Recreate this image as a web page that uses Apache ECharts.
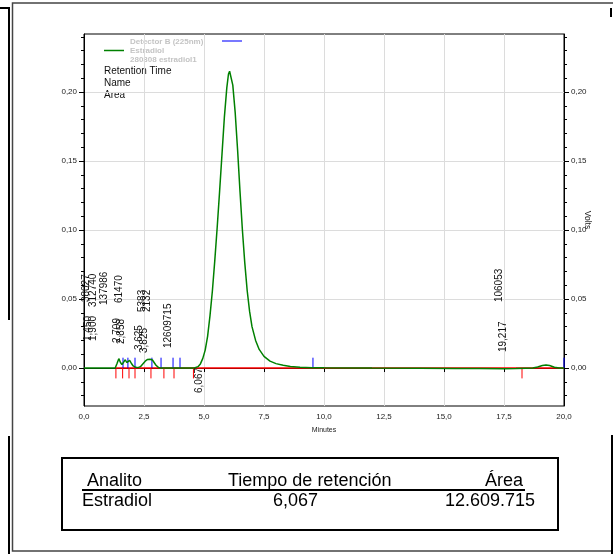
<!DOCTYPE html>
<html>
<head>
<meta charset="utf-8">
<script src="https://cdn.jsdelivr.net/npm/echarts@6/dist/echarts.min.js"></script>
<style>
  html, body { margin: 0; padding: 0; background: #fff; }
  #chart { width: 613px; height: 554px; }
</style>
</head>
<body>
<div id="chart"></div>
<script>
// Detector B (225 nm) trace: time in minutes, signal in volts
const traceTimes = [
  0.00, 0.50, 1.00, 1.30, 1.38, 1.45, 1.52, 1.58, 1.66, 1.72, 1.78, 1.85, 1.90, 1.97,
  2.05, 2.15, 2.25, 2.35, 2.45, 2.55, 2.65, 2.75, 2.85, 2.92, 3.00, 3.10, 3.20, 3.60,
  4.00, 4.40, 4.60, 4.75, 4.85, 4.95, 5.05, 5.15, 5.25, 5.35, 5.45, 5.55, 5.65, 5.75,
  5.85, 5.95, 6.02, 6.067, 6.12, 6.20, 6.30, 6.40, 6.50, 6.60, 6.70, 6.80, 6.90, 7.00,
  7.15, 7.30, 7.50, 7.75, 8.00, 8.30, 8.60, 9.00, 9.50, 10.00, 12.00, 14.00, 15.50,
  16.50, 17.50, 18.00, 18.40, 18.70, 18.90, 19.10, 19.25, 19.40, 19.60, 19.80, 20.00
];
const traceVolts = [
  0.0000, 0.0000, 0.0000, 0.0000, 0.0035, 0.0068, 0.0040, 0.0025, 0.0045, 0.0060, 0.0040, 0.0050, 0.0055, 0.0035,
  0.0015, 0.0005, 0.0003, 0.0010, 0.0030, 0.0050, 0.0062, 0.0063, 0.0058, 0.0045, 0.0020, 0.0005, 0.0000, 0.0000,
  0.0000, 0.0000, 0.0000, 0.0010, 0.0030, 0.0070, 0.0130, 0.0230, 0.0380, 0.0560, 0.0780, 0.1020, 0.1280, 0.1550,
  0.1820, 0.2030, 0.2130, 0.2150, 0.2140, 0.2050, 0.1850, 0.1580, 0.1280, 0.1000, 0.0760, 0.0560, 0.0410, 0.0300,
  0.0200, 0.0135, 0.0085, 0.0050, 0.0032, 0.0020, 0.0012, 0.0006, 0.0003, 0.0002, 0.0000, -0.0001, -0.0003,
  -0.0004, -0.0005, -0.0004, -0.0001, 0.0000, 0.0008, 0.0018, 0.0022, 0.0018, 0.0006, 0.0001, 0.0000
];

// Integration baseline and peak start / end events (minutes)
const baselineTimes = [1.33, 20.0];
const peakStartTimes = [1.625, 1.83, 2.125, 2.83, 3.21, 3.71, 4.0, 9.54, 20.0];
const peakEndTimes = [1.33, 1.61, 1.875, 2.125, 2.79, 3.33, 3.75, 4.56, 18.25];

// Peak results
const retentionTimes = [1.450, 1.900, 2.709, 2.858, 3.625, 3.825, 6.067, 19.217];
const peakAreas = [38027, 312740, 137986, 61470, 5383, 2132, 12609715, 106053];

// Axis ticks
const xTicks = [0, 2.5, 5, 7.5, 10, 12.5, 15, 17.5, 20];
const yTicks = [0, 0.05, 0.10, 0.15, 0.20];
const yMinorTicks = [-0.02, -0.01, 0.01, 0.02, 0.03, 0.04, 0.06, 0.07, 0.08, 0.09, 0.11, 0.12,
  0.13, 0.14, 0.16, 0.17, 0.18, 0.19, 0.21, 0.22, 0.23, 0.24];

// Results table
const tableHeader = ['Analito', 'Tiempo de retención', 'Área'];
const tableRow = ['Estradiol', '6,067', '12.609.715'];

// ---- layout ----
const Y_MIN = -0.0275, Y_MAX = 0.242;
const EVENT_LEN = 0.0075;
const FONT = 'Arial, "Liberation Sans", Helvetica, sans-serif';
// anchor (time, volts) of the bottom end of each rotated annotation
const rtLabelAnchors = [[0.17, 0.0196], [0.375, 0.0196], [1.40, 0.0181], [1.56, 0.0174],
  [2.31, 0.0130], [2.52, 0.0109], [4.79, -0.0181], [17.46, 0.0116]];
const areaLabelAnchors = [[0.083, 0.0478], [0.375, 0.0442], [0.833, 0.0457], [1.458, 0.0471],
  [2.44, 0.0406], [2.65, 0.0406], [3.5, 0.0145], [17.29, 0.0478]];

const fmtComma = (v, d) => v.toFixed(d).replace('.', ',');

const traceData = traceTimes.map((t, i) => [t, traceVolts[i]]);
const baselineData = baselineTimes.map(t => [t, 0]);

const annotations = []
  .concat(retentionTimes.map((rt, i) => ({ text: fmtComma(rt, 3), pos: rtLabelAnchors[i] })))
  .concat(peakAreas.map((a, i) => ({ text: String(a), pos: areaLabelAnchors[i] })));

function eventSeries(times, len, color) {
  return {
    type: 'custom',
    coordinateSystem: 'cartesian2d',
    xAxisIndex: 0, yAxisIndex: 0,
    silent: true,
    z: 3,
    data: times.map(t => [t, len]),
    renderItem: (params, api) => {
      const p0 = api.coord([api.value(0), 0]);
      const p1 = api.coord([api.value(0), api.value(1)]);
      return { type: 'line', shape: { x1: p0[0], y1: p0[1], x2: p1[0], y2: p1[1] },
        style: { stroke: color, lineWidth: 1 } };
    }
  };
}

const tickLabelStyle = { color: '#222', fontSize: 8, fontFamily: FONT };

const chart = echarts.init(document.getElementById('chart'), null, { renderer: 'canvas' });
chart.setOption({
  animation: false,
  backgroundColor: '#fff',
  grid: { left: 84, top: 34, width: 480, height: 372, show: true, borderColor: '#000', borderWidth: 1, backgroundColor: '#fff' },
  xAxis: {
    type: 'value', min: 0, max: 20, interval: 2.5,
    name: 'Minutes', nameLocation: 'middle', nameGap: 21, nameMoveOverlap: false,
    nameTextStyle: { color: '#222', fontSize: 7, fontFamily: FONT },
    axisLine: { lineStyle: { color: '#000', width: 1 } },
    axisTick: { length: 4, lineStyle: { color: '#000' } },
    axisLabel: Object.assign({ margin: 7, formatter: v => fmtComma(v, 1) }, tickLabelStyle),
    splitLine: { show: true, lineStyle: { color: '#dcdcdc', width: 1 } }
  },
  yAxis: [
    {
      type: 'value', position: 'left', min: Y_MIN, max: Y_MAX,
      axisLine: { show: true, lineStyle: { color: '#000', width: 1 } },
      axisTick: { show: true, length: 5, customValues: yTicks, lineStyle: { color: '#000' } },
      axisLabel: Object.assign({ margin: 7, customValues: yTicks, formatter: v => fmtComma(v, 2) }, tickLabelStyle),
      splitLine: { show: true, lineStyle: { color: '#dcdcdc', width: 1 } }
    },
    {
      type: 'value', position: 'left', min: Y_MIN, max: Y_MAX,
      axisLine: { show: false },
      axisTick: { show: true, length: 3, customValues: yMinorTicks, lineStyle: { color: '#000' } },
      axisLabel: { show: false },
      splitLine: { show: false }
    },
    {
      type: 'value', position: 'right', min: Y_MIN, max: Y_MAX,
      name: 'Volts', nameLocation: 'middle', nameRotate: -90, nameGap: 19, nameMoveOverlap: false,
      nameTextStyle: { color: '#222', fontSize: 8.5, fontFamily: FONT },
      axisLine: { show: true, lineStyle: { color: '#000', width: 1 } },
      axisTick: { show: true, length: 5, customValues: yTicks, lineStyle: { color: '#000' } },
      axisLabel: Object.assign({ margin: 7, customValues: yTicks, formatter: v => fmtComma(v, 2) }, tickLabelStyle),
      splitLine: { show: false }
    },
    {
      type: 'value', position: 'right', min: Y_MIN, max: Y_MAX,
      axisLine: { show: false },
      axisTick: { show: true, length: 3, customValues: yMinorTicks, lineStyle: { color: '#000' } },
      axisLabel: { show: false },
      splitLine: { show: false }
    }
  ],
  series: [
    {
      name: 'baseline', type: 'line', data: baselineData, yAxisIndex: 0,
      symbol: 'none', z: 2, silent: true,
      lineStyle: { color: '#ff0000', width: 1.5 }
    },
    eventSeries(peakStartTimes, EVENT_LEN, '#0000ff'),
    eventSeries(peakEndTimes, -EVENT_LEN, '#ff0000'),
    {
      name: 'Estradiol', type: 'line', data: traceData, yAxisIndex: 0,
      symbol: 'none', z: 4, silent: true,
      lineStyle: { color: '#008000', width: 1.5 }
    },
    {
      type: 'custom', coordinateSystem: 'cartesian2d', yAxisIndex: 0, z: 5, silent: true,
      data: annotations.map(a => a.pos),
      renderItem: (params, api) => {
        const p = api.coord([api.value(0), api.value(1)]);
        return {
          type: 'text', x: p[0], y: p[1], rotation: Math.PI / 2,
          style: { text: annotations[params.dataIndex].text, fill: '#111', font: '10px ' + FONT,
            align: 'left', verticalAlign: 'middle' }
        };
      }
    }
  ],
  graphic: [
    // page frame
    { type: 'line', shape: { x1: 0, y1: 8, x2: 9, y2: 8 }, style: { stroke: '#000', lineWidth: 2 } },
    { type: 'line', shape: { x1: 9, y1: 7, x2: 9, y2: 320 }, style: { stroke: '#000', lineWidth: 2 } },
    { type: 'line', shape: { x1: 9, y1: 436, x2: 9, y2: 554 }, style: { stroke: '#000', lineWidth: 2 } },
    { type: 'polyline', shape: { points: [[613, 3], [12.5, 3], [12.5, 551], [613, 551]] }, style: { stroke: '#444', lineWidth: 1.5, fill: null } },
    { type: 'line', shape: { x1: 611, y1: 8, x2: 611, y2: 17 }, style: { stroke: '#000', lineWidth: 2 } },
    { type: 'line', shape: { x1: 612, y1: 435, x2: 612, y2: 554 }, style: { stroke: '#000', lineWidth: 2 } },
    // legend
    { type: 'line', shape: { x1: 104, y1: 50.5, x2: 124, y2: 50.5 }, style: { stroke: '#008000', lineWidth: 1.5 } },
    { type: 'line', shape: { x1: 222, y1: 41, x2: 242, y2: 41 }, style: { stroke: '#4b4bff', lineWidth: 1.5 } },
    { type: 'text', x: 130, y: 41.5, style: { text: 'Detector B (225nm)', fill: '#c4c4c4', font: 'bold 8px ' + FONT, verticalAlign: 'middle' } },
    { type: 'text', x: 130, y: 50.5, style: { text: 'Estradiol', fill: '#c4c4c4', font: 'bold 8px ' + FONT, verticalAlign: 'middle' } },
    { type: 'text', x: 130, y: 60, style: { text: '280308 estradiol1', fill: '#c4c4c4', font: 'bold 8px ' + FONT, verticalAlign: 'middle' } },
    { type: 'text', x: 104, y: 71, style: { text: 'Retention Time', fill: '#111', font: '10px ' + FONT, verticalAlign: 'middle' } },
    { type: 'text', x: 104, y: 83.5, style: { text: 'Name', fill: '#111', font: '10px ' + FONT, verticalAlign: 'middle' } },
    { type: 'text', x: 104, y: 95.5, style: { text: 'Area', fill: '#111', font: '10px ' + FONT, verticalAlign: 'middle' } },
    // results table
    { type: 'rect', shape: { x: 62, y: 458, width: 496, height: 72 }, style: { stroke: '#000', lineWidth: 2, fill: '#fff' } },
    { type: 'line', shape: { x1: 82, y1: 490, x2: 525, y2: 490 }, style: { stroke: '#000', lineWidth: 2 } },
    { type: 'text', x: 87, y: 481.5, style: { text: tableHeader[0], fill: '#000', font: '18px ' + FONT, verticalAlign: 'middle' } },
    { type: 'text', x: 228, y: 481.5, style: { text: tableHeader[1], fill: '#000', font: '18px ' + FONT, verticalAlign: 'middle' } },
    { type: 'text', x: 485, y: 481.5, style: { text: tableHeader[2], fill: '#000', font: '18px ' + FONT, verticalAlign: 'middle' } },
    { type: 'text', x: 82, y: 501.5, style: { text: tableRow[0], fill: '#000', font: '18px ' + FONT, verticalAlign: 'middle' } },
    { type: 'text', x: 273, y: 501.5, style: { text: tableRow[1], fill: '#000', font: '18px ' + FONT, verticalAlign: 'middle' } },
    { type: 'text', x: 445, y: 501.5, style: { text: tableRow[2], fill: '#000', font: '18px ' + FONT, verticalAlign: 'middle' } }
  ]
});
</script>
</body>
</html>
